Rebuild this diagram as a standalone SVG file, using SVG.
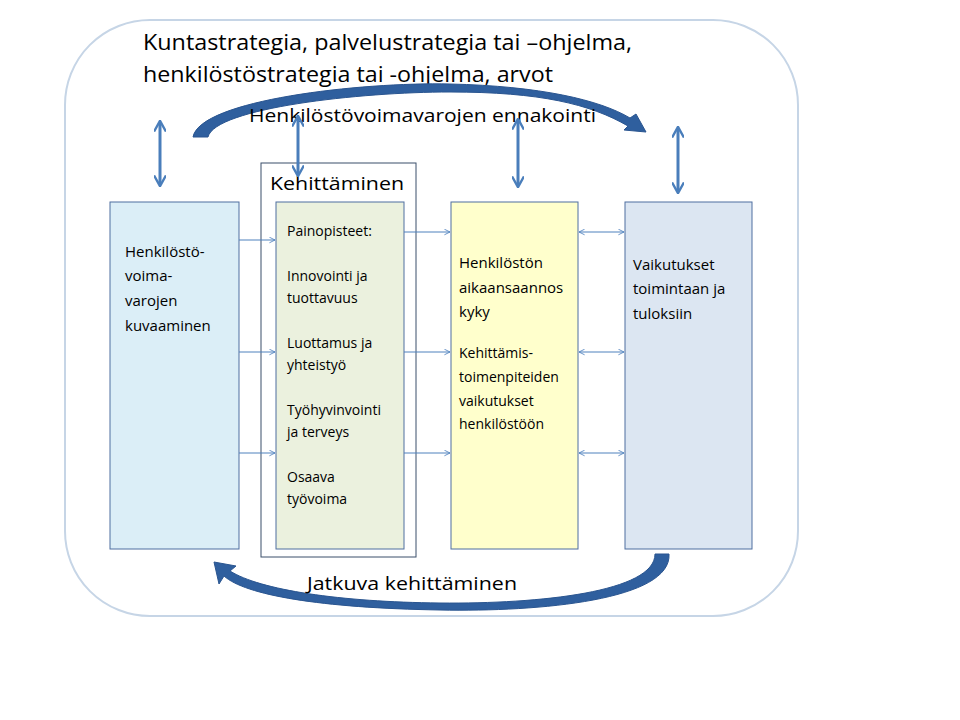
<svg xmlns="http://www.w3.org/2000/svg" width="960" height="720" viewBox="0 0 960 720">
<defs>
<style>
text{font-family:"Open Sans","Liberation Sans",Arial,sans-serif;fill:#000}
.t{font-size:15px}
.b{font-size:14px}
.box{stroke:#4f6fa0;stroke-width:1}
.ln{stroke:#4f81bd;stroke-width:1;fill:none}
.da{stroke:#4a7ebb;stroke-width:3;fill:none}
.band{fill:#2f5f9e;stroke:#2a5590;stroke-width:1}
</style>
<marker id="ah" viewBox="0 0 10 10" refX="9" refY="5" markerWidth="7" markerHeight="7" orient="auto-start-reverse"><path d="M1,1 L9,5 L1,9" fill="none" stroke="#4f81bd" stroke-width="1.2"/></marker>
<marker id="ha" viewBox="0 0 10 10" refX="8" refY="5" markerWidth="4" markerHeight="4" orient="auto-start-reverse"><path d="M0,0 L9,5 L0,10" fill="none" stroke="#4a7ebb" stroke-width="2"/></marker>
</defs>
<g id="frame"><rect x="65" y="20" width="733" height="596" rx="85" fill="#fff" stroke="#c6d5e6" stroke-width="2"/>
<text x="143" y="50" style="font-size:21px" textLength="489" lengthAdjust="spacingAndGlyphs">Kuntastrategia, palvelustrategia tai –ohjelma,</text>
<text x="143" y="82" style="font-size:21px" textLength="410" lengthAdjust="spacingAndGlyphs">henkilöstöstrategia tai -ohjelma, arvot</text></g>
<g id="kehittaminen"><rect x="261" y="163" width="155" height="394" fill="#fff" stroke="#3b4f6a"/>
<text x="270" y="190" style="font-size:18px" textLength="134" lengthAdjust="spacingAndGlyphs">Kehittäminen</text></g>
<g id="n1"><rect class="box" x="110" y="202" width="129" height="347" fill="#dbeef7"/>
<text class="t" x="125" y="257">Henkilöstö-</text><text class="t" x="125" y="281">voima-</text><text class="t" x="125" y="306">varojen</text><text class="t" x="125" y="331">kuvaaminen</text></g>
<g id="n2"><rect class="box" x="276" y="202" width="128" height="347" fill="#ebf1de"/>
<text class="b" x="287" y="236">Painopisteet:</text>
<text class="b" x="287" y="281">Innovointi ja</text><text class="b" x="287" y="303">tuottavuus</text>
<text class="b" x="287" y="348">Luottamus ja</text><text class="b" x="287" y="370">yhteistyö</text>
<text class="b" x="287" y="415">Työhyvinvointi</text><text class="b" x="287" y="437">ja terveys</text>
<text class="b" x="287" y="482">Osaava</text><text class="b" x="287" y="504">työvoima</text></g>
<g id="n3"><rect class="box" x="451" y="202" width="127" height="347" fill="#ffffcc"/>
<text class="t" x="459" y="268">Henkilöstön</text><text class="t" x="459" y="293">aikaansaannos</text><text class="t" x="459" y="317">kyky</text>
<text class="b" x="459" y="358">Kehittämis-</text><text class="b" x="459" y="382">toimenpiteiden</text><text class="b" x="459" y="406">vaikutukset</text><text class="b" x="459" y="429">henkilöstöön</text></g>
<g id="n4"><rect class="box" x="625" y="202" width="127" height="347" fill="#dce6f2"/>
<text class="t" x="633" y="270">Vaikutukset</text><text class="t" x="633" y="294">toimintaan ja</text><text class="t" x="633" y="319">tuloksiin</text></g>
<g id="connectors">
<path class="band" d="M193,137 C200,100 360,82 450,84 C540,86 600,100 630,118 L636,114 L646,132 L624,130 L628,126 C590,104 540,92 450,92 C360,92 215,108 208,137 Z"/>
<path class="band" d="M669,554 C672,600 540,612 440,610 C320,608 245,595 224,576 L219,584 L214,562 L236,566 L230,571 C260,590 340,602 440,603 C540,604 655,592 655,554 Z"/>
<text x="249" y="122" style="font-size:19px" textLength="347" lengthAdjust="spacingAndGlyphs">Henkilöstövoimavarojen ennakointi</text>
<text x="307" y="590" style="font-size:19px" textLength="210" lengthAdjust="spacingAndGlyphs">Jatkuva kehittäminen</text>
<line class="da" x1="160" y1="122" x2="160" y2="185" marker-start="url(#ha)" marker-end="url(#ha)"/>
<line class="da" x1="298" y1="117" x2="298" y2="175" marker-start="url(#ha)" marker-end="url(#ha)"/>
<line class="da" x1="518" y1="120" x2="518" y2="186" marker-start="url(#ha)" marker-end="url(#ha)"/>
<line class="da" x1="678" y1="128" x2="678" y2="192" marker-start="url(#ha)" marker-end="url(#ha)"/>
<line class="ln" x1="239" y1="240" x2="275" y2="240" marker-end="url(#ah)"/>
<line class="ln" x1="239" y1="352" x2="275" y2="352" marker-end="url(#ah)"/>
<line class="ln" x1="239" y1="453" x2="275" y2="453" marker-end="url(#ah)"/>
<line class="ln" x1="404" y1="232" x2="450" y2="232" marker-end="url(#ah)"/>
<line class="ln" x1="404" y1="352" x2="450" y2="352" marker-end="url(#ah)"/>
<line class="ln" x1="404" y1="453" x2="450" y2="453" marker-end="url(#ah)"/>
<line class="ln" x1="579" y1="232" x2="624" y2="232" marker-start="url(#ah)" marker-end="url(#ah)"/>
<line class="ln" x1="579" y1="352" x2="624" y2="352" marker-start="url(#ah)" marker-end="url(#ah)"/>
<line class="ln" x1="579" y1="453" x2="624" y2="453" marker-start="url(#ah)" marker-end="url(#ah)"/>
</g>
</svg>
